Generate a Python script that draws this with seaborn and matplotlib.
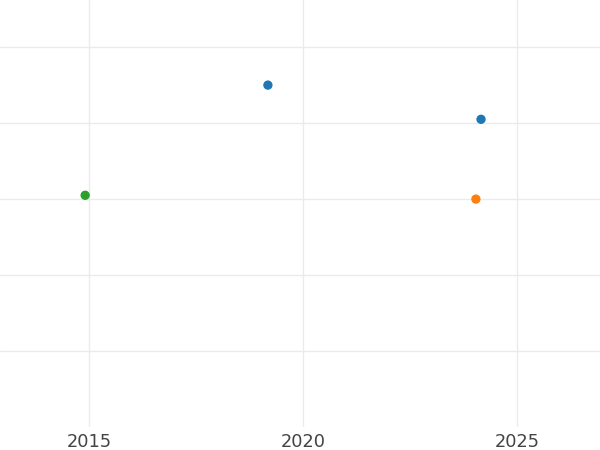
import matplotlib
matplotlib.use("Agg")
import matplotlib.pyplot as plt
import seaborn as sns
import pandas as pd

years = [2019.18, 2024.16, 2024.04, 2014.91]
values = [4.5, 4.05, 3.0, 3.05]
groups = ["A", "A", "B", "C"]
palette = {"A": "#1f77b4", "B": "#ff7f0e", "C": "#2ca02c"}
x_ticks = [2015, 2020, 2025]
y_ticks = [1, 2, 3, 4, 5]

df = pd.DataFrame({"year": years, "value": values, "group": groups})

sns.set_theme(style="whitegrid")
fig = plt.figure(figsize=(6, 4.5), dpi=100)
ax = fig.add_axes([0, 0.051, 1, 0.949])
sns.scatterplot(data=df, x="year", y="value", hue="group", palette=palette,
                s=45, linewidth=0, ax=ax, legend=False)
ax.set_xlim(2012.92, 2026.94)
ax.set_ylim(0, 5.62)
ax.set_xticks(x_ticks)
ax.set_yticks(y_ticks)
ax.set_yticklabels([])
ax.set_xlabel("")
ax.set_ylabel("")
ax.grid(True, color="#ebebeb", linewidth=1.0)
for s in ax.spines.values():
    s.set_visible(False)
ax.tick_params(axis="x", labelsize=12.8, colors="#444444", pad=4, length=0)
ax.tick_params(axis="y", length=0)
fig.savefig("out.png", dpi=100)
